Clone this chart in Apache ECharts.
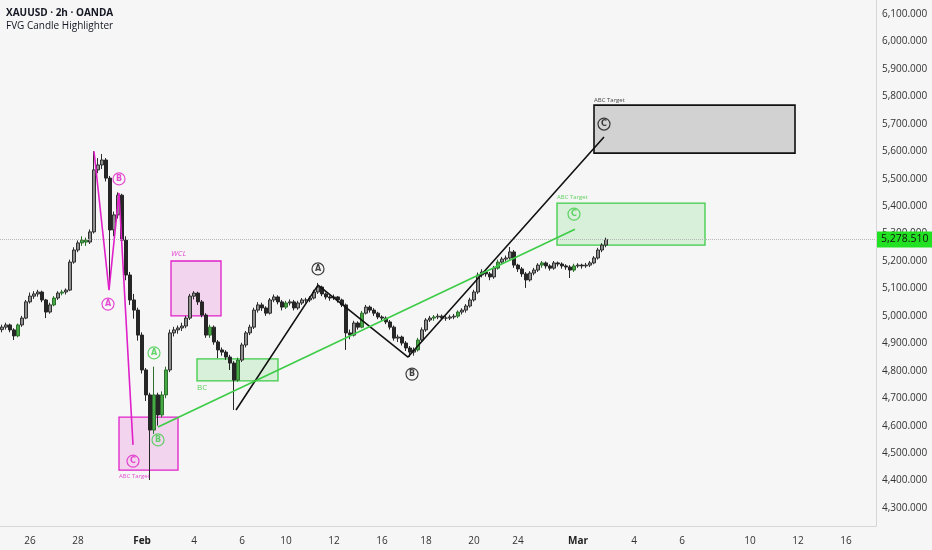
<!DOCTYPE html>
<html>
<head>
<meta charset="utf-8">
<script src="https://cdn.jsdelivr.net/npm/echarts@6/dist/echarts.min.js"></script>
<style>
html,body{margin:0;padding:0;background:#f6f6f6;}
#c{width:932px;height:550px;}
</style>
</head>
<body>
<div id="c"></div>
<script>
// ---- data ----
const slotCount = 219;
const tickSlots = [7,19,35,48,60,71,83,95,106,118,129,144,158,170,187,199,211];
const tickTexts = ['26','28','Feb','4','6','10','12','16','18','20','24','Mar','4','6','10','12','16'];
const priceTicks = [4300,4400,4500,4600,4700,4800,4900,5000,5100,5200,5300,5400,5500,5600,5700,5800,5900,6000,6100];
const lastPrice = 5278.51;
// [open, close, low, high]
const candles = [
[4950,4959,4940,4968],[4959,4967,4950,4975],[4967,4949,4940,4972],[4949,4927,4912,4955],
[4927,4967,4922,4972],[4967,4992,4960,5000],[4992,5051,4988,5058],[5051,5072,5045,5085],
[5072,5080,5062,5090],[5080,5087,5070,5095],[5087,5058,5050,5092],[5058,5014,4992,5062],
[5014,5040,5008,5048],[5040,5065,5035,5072],[5065,5083,5058,5090],[5083,5087,5075,5095],
[5087,5094,5078,5100],[5094,5196,5090,5205],[5196,5240,5190,5250],[5240,5266,5232,5275],
[5266,5276,5255,5290],[5276,5269,5255,5285],[5269,5306,5262,5315],[5306,5532,5300,5600],
[5532,5550,5520,5575],[5550,5568,5535,5590],[5568,5502,5490,5575],[5502,5313,5100,5510],
[5313,5368,5290,5380],[5368,5440,5355,5450],[5440,5276,5260,5445],[5276,5149,5130,5290],
[5149,5058,5040,5160],[5058,5021,4990,5080],[5021,4930,4910,5030],[4930,4803,4790,4940],
[4803,4712,4690,4810],[4712,4584,4402,4720],[4584,4712,4570,4815],[4712,4639,4600,4720],
[4639,4712,4630,4725],[4712,4803,4700,4815],[4803,4938,4795,4950],[4938,4949,4925,4960],
[4949,4956,4935,4965],[4956,4963,4945,4975],[4963,4992,4955,5000],[4992,5072,4985,5080],
[5072,5083,5060,5090],[5083,5051,5040,5088],[5051,5003,4995,5058],[5003,4930,4920,5010],
[4930,4959,4920,4968],[4959,4905,4895,4965],[4905,4876,4846,4912],[4876,4868,4855,4885],
[4868,4850,4840,4875],[4850,4828,4803,4858],[4828,4766,4657,4835],[4766,4839,4760,4848],
[4839,4894,4832,4902],[4894,4938,4885,4945],[4938,4959,4930,4968],[4959,5021,4952,5030],
[5021,5040,5012,5050],[5040,5029,5018,5048],[5029,5010,5000,5035],[5010,5058,5005,5065],
[5058,5069,5050,5078],[5069,5051,5042,5075],[5051,5032,5020,5058],[5032,5047,5025,5055],
[5047,5051,5038,5060],[5051,5029,5020,5058],[5029,5047,5022,5055],[5047,5058,5040,5065],
[5058,5058,5048,5066],[5058,5065,5050,5072],[5065,5087,5060,5095],[5087,5105,5080,5120],
[5105,5080,5072,5110],[5080,5069,5060,5085],[5069,5065,5055,5075],[5065,5069,5058,5078],
[5069,5058,5048,5072],[5058,5040,5032,5063],[5040,4938,4876,5045],[4938,4930,4915,4950],
[4930,4974,4925,4982],[4974,4959,4950,4980],[4959,5010,4955,5018],[5010,5032,5005,5040],
[5032,5021,5012,5038],[5021,5010,5000,5028],[5010,4996,4988,5015],[4996,4992,4982,5002],
[4992,4978,4970,4998],[4978,4959,4950,4985],[4959,4919,4910,4965],[4919,4923,4905,4932],
[4923,4901,4892,4928],[4901,4883,4872,4908],[4883,4868,4850,4890],[4868,4876,4855,4885],
[4876,4912,4870,4920],[4912,4949,4905,4958],[4949,4985,4942,4992],[4985,4992,4978,5000],
[4992,4996,4982,5003],[4996,4999,4988,5008],[4999,4992,4985,5005],[4992,4992,4982,5000],
[4992,4996,4985,5004],[4996,4999,4988,5007],[4999,5014,4992,5020],[5014,5021,5005,5028],
[5021,5036,5012,5043],[5036,5058,5030,5066],[5058,5087,5052,5095],[5087,5149,5080,5158],
[5149,5160,5140,5170],[5160,5153,5143,5167],[5153,5142,5130,5160],[5142,5174,5135,5182],
[5174,5196,5168,5205],[5196,5207,5188,5215],[5207,5211,5198,5220],[5211,5233,5205,5251],
[5233,5185,5175,5240],[5185,5171,5160,5190],[5171,5153,5142,5178],[5153,5131,5102,5160],
[5131,5156,5125,5163],[5156,5167,5148,5175],[5167,5185,5160,5192],[5185,5193,5175,5200],
[5193,5182,5172,5198],[5182,5174,5165,5188],[5174,5193,5168,5200],[5193,5189,5180,5198],
[5189,5182,5172,5195],[5182,5178,5168,5188],[5178,5167,5138,5185],[5167,5182,5160,5190],
[5182,5185,5175,5192],[5185,5182,5172,5190],[5182,5185,5175,5193],[5185,5193,5178,5200],
[5193,5211,5188,5218],[5211,5240,5205,5248],[5240,5258,5232,5265],[5258,5278.51,5250,5285]
];
const fvgIdx = [4,13,15,20,21,38,40,41,52,59,71,90,104,108,114,124,135,143];

// annotation drawings (slot index, price)
const magentaWave = [[23,5600],[26.75,5094],[29.25,5448],[32.75,4530]];
const blackWave = [[58.5,4657],[79,5112],[101.5,4850],[150.5,5652]];
const greenTrend = [[39,4595],[143.25,5316]];
const magentaBoxes = [[29.25,4631,44,4438],[42.25,5200,54.75,5000]];
const greenBoxes = [[48.75,4843,69,4763],[138.75,5411,175.75,5258]];
const blackBoxes = [[148,5768,198.25,5593]];
const magentaMarks = [[26.5,5043,'A'],[29.25,5499,'B'],[32.75,4471,'C']];
const greenMarks = [[38,4865,'A'],[39,4548,'B'],[143,5371,'C']];
const blackMarks = [[79,5171,'A'],[102.5,4788,'B'],[150.5,5699,'C']];
const noteTexts = [
  [29.25,4416,'ABC Target','#e020c8',6,'normal'],
  [42.25,5225,'WCL','#e020c8',8,'italic'],
  [48.75,4737,'BC','#3cc83c',8,'normal'],
  [138.75,5433,'ABC Target','#3cc83c',6,'normal'],
  [148,5787,'ABC Target','#111',6,'normal']
];

// ---- build ----
const MAG = '#e020c8', GRN = '#3ccc46', BLK = '#111111';
const cats = Array.from({length: slotCount}, (_, k) => 's' + k);
const tickMap = {};
tickSlots.forEach((s, i) => tickMap[s] = tickTexts[i]);

const candleData = candles.map((c, i) => {
  const item = {value: c};
  if (fvgIdx.includes(i)) item.itemStyle = {color: '#45a845', color0: '#2f8a2f', borderColor: '#2d6e2d', borderColor0: '#2d6e2d'};
  return item;
});

function fmt(v){ return Math.round(v).toString().replace(/\B(?=(\d{3})+(?!\d))/g, ',') + '.000'; }

function boxes(list, fill, border, bw){
  return list.map(b => [{coord:[b[0], b[1]], itemStyle:{color: fill, borderColor: border, borderWidth: bw}}, {coord:[b[2], b[3]]}]);
}
function marks(list, color){
  return {
    type:'scatter', xAxisIndex:1, yAxisIndex:0, symbol:'circle', symbolSize:12, silent:true, z:6,
    itemStyle:{color:'rgba(0,0,0,0)', borderColor: color, borderWidth: 1.2},
    label:{show:true, position:'inside', formatter:'{b}', color: color, fontSize: 8, fontWeight:'bold', fontFamily:'DejaVu Sans'},
    data: list.map(m => ({value:[m[0], m[1]], name: m[2]}))
  };
}

const chart = echarts.init(document.getElementById('c'), null, {renderer:'canvas'});
chart.setOption({
  animation:false,
  backgroundColor:'#f6f6f6',
  title:{
    text:'XAUUSD · 2h · OANDA', subtext:'FVG Candle Highlighter', left:6, top:8, itemGap:3, padding:0,
    textStyle:{fontSize:10, fontWeight:'bold', color:'#131722', fontFamily:'Open Sans'},
    subtextStyle:{fontSize:10, color:'#131722', fontFamily:'Open Sans'}
  },
  grid:{left:0, right:56, top:0, bottom:24},
  xAxis:[{
    type:'category', data:cats, boundaryGap:true,
    axisLine:{show:true, onZero:false, lineStyle:{color:'#d6d6d6'}},
    axisTick:{show:false},
    splitLine:{show:false},
    axisLabel:{
      interval:(idx) => tickMap[idx] !== undefined,
      formatter:(val, idx) => { const t = tickMap[idx]; if (t === undefined) return ''; return (t === 'Feb' || t === 'Mar') ? '{b|' + t + '}' : t; },
      color:'#333', fontSize:10, margin:10, fontFamily:'Open Sans',
      rich:{b:{fontWeight:'bold', color:'#222', fontSize:10, fontFamily:'Open Sans'}}
    }
  },{
    type:'value', min:-0.5, max:slotCount - 0.5, show:false,
    axisLine:{show:false, onZero:false}, splitLine:{show:false}
  }],
  yAxis:[{
    type:'value', position:'right', min:4234.4, max:6151, scale:true,
    axisLine:{show:true, onZero:false, lineStyle:{color:'#d6d6d6'}},
    axisTick:{show:false},
    splitLine:{show:false},
    axisLabel:{customValues: priceTicks, formatter: fmt, color:'#333', fontSize:10, margin:6, fontFamily:'Open Sans'}
  }],
  series:[
    {
      type:'candlestick', xAxisIndex:0, yAxisIndex:0, barWidth:2.6, z:3,
      itemStyle:{color:'#8e8e8e', color0:'#262626', borderColor:'#2e2e2e', borderColor0:'#262626', borderWidth:1},
      data:candleData,
      markLine:{
        silent:true, symbol:['none','none'],
        lineStyle:{color:'#b8b8b8', type:'dotted', width:1},
        label:{show:true, position:'end', distance:1, formatter: () => '5,278.510', backgroundColor:'#22e022', color:'#111', fontSize:10.5, padding:[3,4,2,4], fontFamily:'Open Sans'},
        data:[{yAxis:lastPrice}]
      }
    },
    {
      type:'line', xAxisIndex:1, yAxisIndex:0, data:[], silent:true, z:1,
      markArea:{silent:true, data: boxes(magentaBoxes, 'rgba(230,40,200,0.16)', MAG, 1.3)
        .concat(boxes(greenBoxes, 'rgba(60,204,70,0.16)', GRN, 1.3))
        .concat(boxes(blackBoxes, '#d2d2d2', BLK, 1.6))}
    },
    {type:'line', xAxisIndex:1, yAxisIndex:0, data:magentaWave, symbol:'none', silent:true, z:5, lineStyle:{color:MAG, width:1.6}},
    {type:'line', xAxisIndex:1, yAxisIndex:0, data:blackWave, symbol:'none', silent:true, z:5, lineStyle:{color:BLK, width:1.6}},
    {type:'line', xAxisIndex:1, yAxisIndex:0, data:greenTrend, symbol:'none', silent:true, z:5, lineStyle:{color:GRN, width:1.6}},
    marks(magentaMarks, MAG),
    marks(greenMarks, GRN),
    marks(blackMarks, BLK),
    {
      type:'scatter', xAxisIndex:1, yAxisIndex:0, symbolSize:0, silent:true, z:6,
      data: noteTexts.map(n => ({value:[n[0], n[1]], name:n[2],
        label:{show:true, position:'right', distance:0, formatter:'{b}', color:n[3], fontSize:n[4], fontStyle:n[5], fontFamily:'Open Sans'}}))
    }
  ]
});
</script>
</body>
</html>
